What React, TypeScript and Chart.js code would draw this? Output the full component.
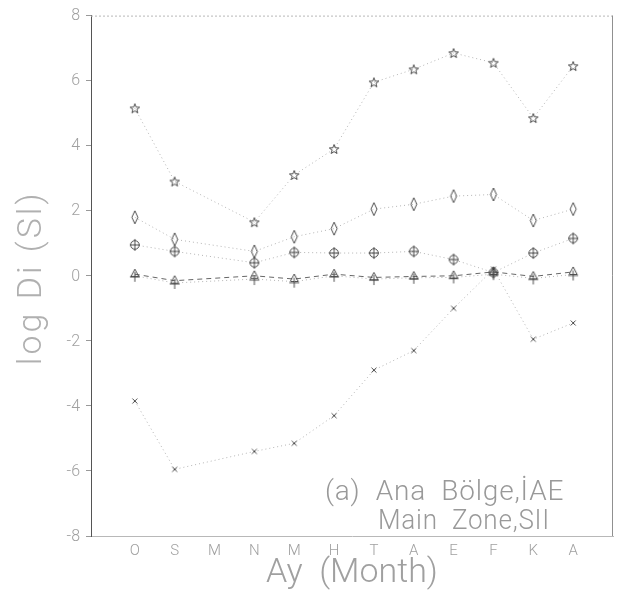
import React, { useEffect, useRef } from 'react';
import { Chart, registerables } from 'chart.js';

Chart.register(...registerables);

// ---- data ----
const months = ['O', 'S', 'M', 'N', 'M', 'H', 'T', 'A', 'E', 'F', 'K', 'A'];
const starValues = [5.15, 2.9, null, 1.65, 3.1, 3.9, 5.95, 6.35, 6.85, 6.55, 4.85, 6.45];
const diamondValues = [1.8, 1.12, null, 0.75, 1.2, 1.45, 2.05, 2.2, 2.45, 2.5, 1.7, 2.05];
const circlePlusValues = [0.95, 0.75, null, 0.4, 0.72, 0.7, 0.7, 0.75, 0.5, 0.1, 0.7, 1.15];
const triangleValues = [0.05, -0.15, null, 0.0, -0.1, 0.05, -0.05, -0.02, 0.0, 0.12, -0.02, 0.12];
const plusValues = [0.0, -0.22, null, -0.1, -0.18, 0.0, -0.1, -0.06, -0.05, 0.05, -0.08, 0.04];
const crossValues = [-3.85, -5.95, null, -5.4, -5.15, -4.3, -2.9, -2.3, -1.0, 0.2, -1.95, -1.45];
const yTickValues = [-8, -6, -4, -2, 0, 2, 4, 6, 8];
const noteLines = ['(a)  Ana  Bölge,İAE', 'Main  Zone,SII'];
const xTitle = 'Ay  (Month)';
const yTitle = 'log Di (Sl)';

const FAMILY = '"DejaVu Sans ExtraLight", "Roboto Light", "Open Sans Light", "DejaVu Sans"';

type Kind = 'star' | 'diamond' | 'circlePlus' | 'triangle' | 'plus' | 'cross';

function makeMarker(kind: Kind): HTMLCanvasElement {
  const c = document.createElement('canvas');
  const w = kind === 'diamond' ? 10 : 14;
  const h = kind === 'diamond' ? 15 : 14;
  c.width = w;
  c.height = h;
  const ctx = c.getContext('2d')!;
  ctx.strokeStyle = '#3a3a3a';
  ctx.lineWidth = 0.9;
  const cx = w / 2;
  const cy = h / 2;
  ctx.beginPath();
  if (kind === 'star') {
    for (let i = 0; i < 10; i++) {
      const r = i % 2 === 0 ? 5 : 2.1;
      const a = -Math.PI / 2 + (i * Math.PI) / 5;
      const px = cx + r * Math.cos(a);
      const py = cy + 0.5 + r * Math.sin(a);
      if (i === 0) ctx.moveTo(px, py);
      else ctx.lineTo(px, py);
    }
    ctx.closePath();
  } else if (kind === 'diamond') {
    ctx.moveTo(cx, 1);
    ctx.lineTo(w - 2, cy);
    ctx.lineTo(cx, h - 1);
    ctx.lineTo(2, cy);
    ctx.closePath();
  } else if (kind === 'circlePlus') {
    ctx.arc(cx, cy, 4.3, 0, Math.PI * 2);
    ctx.moveTo(cx, cy - 6);
    ctx.lineTo(cx, cy + 6);
    ctx.moveTo(cx - 5, cy);
    ctx.lineTo(cx + 5, cy);
  } else if (kind === 'triangle') {
    ctx.moveTo(cx, cy - 5);
    ctx.lineTo(cx + 4, cy + 2.5);
    ctx.lineTo(cx - 4, cy + 2.5);
    ctx.closePath();
  } else if (kind === 'plus') {
    ctx.moveTo(cx, cy - 4);
    ctx.lineTo(cx, cy + 6);
    ctx.moveTo(cx - 5, cy + 1);
    ctx.lineTo(cx + 5, cy + 1);
  } else {
    ctx.moveTo(cx - 2.5, cy - 2.5);
    ctx.lineTo(cx + 2.5, cy + 2.5);
    ctx.moveTo(cx + 2.5, cy - 2.5);
    ctx.lineTo(cx - 2.5, cy + 2.5);
  }
  ctx.stroke();
  return c;
}

const toPoints = (vals: (number | null)[]) => vals.map((v, i) => ({ x: i, y: v }));

const notePlugin = {
  id: 'notes',
  afterDraw(chart: any) {
    const { ctx, chartArea } = chart;
    ctx.save();
    ctx.strokeStyle = '#b8b8b8';
    ctx.lineWidth = 1;
    ctx.setLineDash([2, 2]);
    ctx.beginPath();
    ctx.moveTo(chartArea.left, chartArea.top + 0.5);
    ctx.lineTo(chartArea.right, chartArea.top + 0.5);
    ctx.stroke();
    ctx.setLineDash([]);
    ctx.strokeStyle = '#909090';
    ctx.beginPath();
    ctx.moveTo(chartArea.right - 0.5, chartArea.top);
    ctx.lineTo(chartArea.right - 0.5, chartArea.bottom);
    ctx.stroke();
    // annotation
    ctx.fillStyle = '#999';
    ctx.font = `28px ${FAMILY}`;
    (ctx as any).letterSpacing = '0.8px';
    ctx.textBaseline = 'alphabetic';
    ctx.textAlign = 'left';
    ctx.fillText(noteLines[0], chartArea.left + 234, chartArea.top + 484, 240);
    ctx.fillText(noteLines[1], chartArea.left + 287, chartArea.top + 513, 172);
    // y-axis title
    ctx.fillStyle = '#b0b0b0';
    ctx.font = `34px ${FAMILY}`;
    (ctx as any).letterSpacing = '3px';
    ctx.textAlign = 'center';
    ctx.textBaseline = 'middle';
    ctx.translate(31, (chartArea.top + chartArea.bottom) / 2 + 2);
    ctx.rotate(-Math.PI / 2);
    ctx.fillText(yTitle, 0, 0, 192);
    ctx.restore();
  },
};

export default function App() {
  const ref = useRef<HTMLCanvasElement | null>(null);
  useEffect(() => {
    if (!ref.current) return;
    const dotted = [1, 3];
    const base = {
      borderWidth: 1,
      pointRadius: 5,
      spanGaps: true,
      tension: 0,
      fill: false,
    };
    const lineGray = '#b4b4b4';
    const chart = new Chart(ref.current, {
      type: 'line',
      data: {
        datasets: [
          { ...base, label: 'star', data: toPoints(starValues), borderColor: lineGray, borderDash: dotted, pointStyle: makeMarker('star') },
          { ...base, label: 'diamond', data: toPoints(diamondValues), borderColor: lineGray, borderDash: dotted, pointStyle: makeMarker('diamond') },
          { ...base, label: 'circlePlus', data: toPoints(circlePlusValues), borderColor: lineGray, borderDash: dotted, pointStyle: makeMarker('circlePlus') },
          { ...base, label: 'plus', data: toPoints(plusValues), borderColor: lineGray, borderDash: dotted, pointStyle: makeMarker('plus') },
          { ...base, label: 'triangle', data: toPoints(triangleValues), borderColor: '#666', borderDash: [5, 4], pointStyle: makeMarker('triangle') },
          { ...base, label: 'cross', data: toPoints(crossValues), borderColor: lineGray, borderDash: dotted, pointStyle: makeMarker('cross') },
        ] as any,
      },
      options: {
        animation: false,
        responsive: false,
        maintainAspectRatio: false,
        layout: { padding: { left: 0, right: 4, top: 10, bottom: 0 } },
        plugins: { legend: { display: false }, tooltip: { enabled: false } },
        scales: {
          x: {
            type: 'linear',
            min: -1.1,
            max: 12,
            afterBuildTicks: (s: any) => {
              s.ticks = months.map((_, i) => ({ value: i }));
            },
            afterFit: (s: any) => {
              s.height = 56;
            },
            ticks: {
              autoSkip: false,
              maxRotation: 0,
              padding: 6,
              color: '#a0a0a0',
              font: { family: FAMILY, size: 15 },
              callback: (v: any) => months[v as number] ?? '',
            },
            grid: { display: false, drawTicks: false },
            border: { display: true, color: '#b8b8b8', dash: [2, 2] },
            title: {
              display: true,
              text: xTitle,
              color: '#a0a0a0',
              font: { family: FAMILY, size: 34 },
              padding: { top: 0, bottom: 0 },
            },
          },
          y: {
            type: 'linear',
            min: -8,
            max: 8,
            afterBuildTicks: (s: any) => {
              s.ticks = yTickValues.map((v) => ({ value: v }));
            },
            afterFit: (s: any) => {
              s.width = 91;
            },
            ticks: {
              padding: 6,
              color: '#a0a0a0',
              font: { family: FAMILY, size: 16 },
            },
            grid: { display: true, drawOnChartArea: false, drawTicks: true, tickLength: 5, color: '#999' },
            border: { display: true, color: '#555', width: 1 },
            title: { display: false },
          },
        },
      },
      plugins: [notePlugin],
    });
    return () => chart.destroy();
  }, []);
  return (
    <div style={{ position: 'fixed', left: 0, top: 0, width: 619, height: 592, background: '#fff' }}>
      <canvas ref={ref} width={619} height={592} style={{ display: 'block', width: 619, height: 592 }} />
    </div>
  );
}
